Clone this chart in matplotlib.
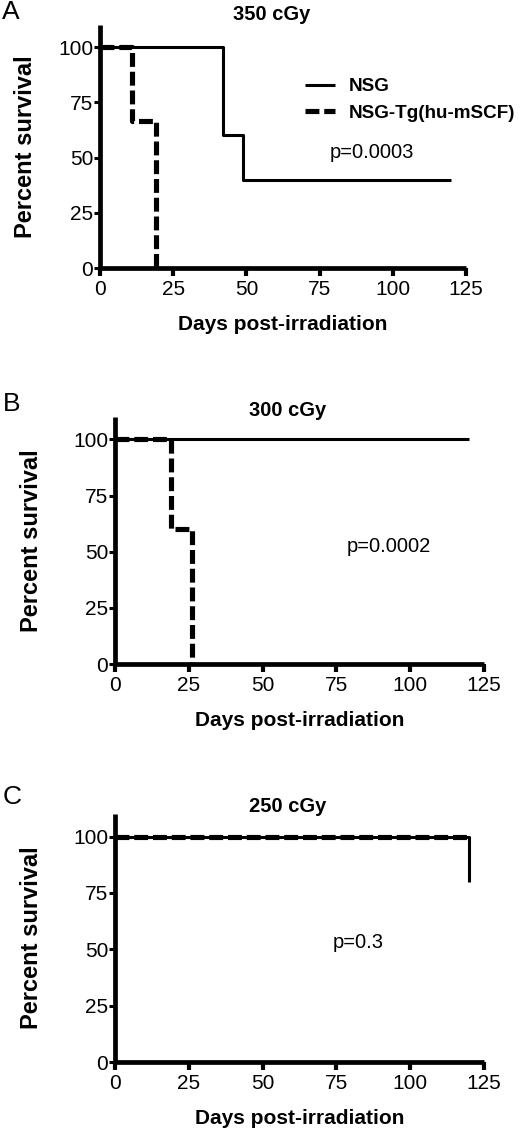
import matplotlib
matplotlib.use("Agg")
import matplotlib.pyplot as plt

plt.rcParams['font.family'] = ['Liberation Sans', 'DejaVu Sans']
plt.rcParams['lines.scale_dashes'] = False

# survival curves (days, percent survival), step-post
doses = ["350 cGy", "300 cGy", "250 cGy"]
panel_letters = ["A", "B", "C"]
p_values = ["p=0.0003", "p=0.0002", "p=0.3"]
series_names = ["NSG", "NSG-Tg(hu-mSCF)"]

nsg_days = [[0, 42, 49, 120], [0, 120], [0, 120]]
nsg_surv = [[100, 60, 40, 40], [100, 100], [100, 80]]
tg_days = [[0, 11, 19], [0, 19, 26], [0, 120]]
tg_surv = [[100, 66.7, 0], [100, 60, 0], [100, 100]]

x_ticks = [0, 25, 50, 75, 100, 125]
y_ticks = [0, 25, 50, 75, 100]

W, H = 520, 1130
fig = plt.figure(figsize=(W / 100, H / 100), dpi=100)

# axes boxes in pixels: left, right, top, bottom
boxes = [(100, 466, 25, 268), (115, 484, 417, 664), (115, 484, 814, 1062)]
title_xy = [(272, 15), (288, 410), (288, 807)]
letter_xy = [(2, 12), (3, 404), (3, 797)]
pval_xy = [(330, 153), (347, 547), (333, 943)]
xlab_y = [325, 720, 1118]
ylab_x = [26, 32, 32]


def fx(px):
    return px / W


def fy(py):
    return 1 - py / H


for i in range(3):
    l, r, t, b = boxes[i]
    ax = fig.add_axes([fx(l), fy(b), (r - l) / W, (b - t) / H])

    ax.plot(nsg_days[i], nsg_surv[i], drawstyle='steps-post', color='black',
            lw=2.2, solid_capstyle='butt', label=series_names[0], zorder=3)
    ax.plot(tg_days[i], tg_surv[i], drawstyle='steps-post', color='black',
            lw=3.7, dashes=(10, 3.5), label=series_names[1], zorder=4)

    ax.set_xlim(0, 125)
    ax.set_ylim(0, 110)
    ax.set_xticks(x_ticks)
    ax.set_yticks(y_ticks)
    for side in ['top', 'right']:
        ax.spines[side].set_visible(False)
    for side in ['left', 'bottom']:
        ax.spines[side].set_linewidth(3.4)
        ax.spines[side].set_capstyle('butt')
    ax.tick_params(axis='y', direction='out', length=4, width=2.2, pad=1,
                   labelsize=15)
    ax.tick_params(axis='x', direction='out', length=5.5, width=3, pad=3,
                   labelsize=15)

    ax.set_xlabel("Days post-irradiation", fontsize=15, fontweight='bold')
    ax.xaxis.label.set_verticalalignment('center')
    ax.xaxis.set_label_coords(0.5, (b - xlab_y[i]) / (b - t))
    ax.set_ylabel("Percent survival", fontsize=17, fontweight='bold')
    ax.yaxis.label.set_verticalalignment('center')
    ax.yaxis.set_label_coords((ylab_x[i] - l) / (r - l), 0.5)

    fig.text(fx(title_xy[i][0]), fy(title_xy[i][1]), doses[i], fontsize=14.5,
             fontweight='bold', ha='center', va='center')
    fig.text(fx(letter_xy[i][0]), fy(letter_xy[i][1]), panel_letters[i],
             fontsize=19, ha='left', va='center')
    fig.text(fx(pval_xy[i][0]), fy(pval_xy[i][1]), p_values[i], fontsize=14.5,
             ha='left', va='center')

    if i == 0:
        ax.legend(loc='upper left', bbox_to_anchor=((305 - l) / (r - l), (b - 78) / (b - t)),
                  frameon=False, borderpad=0, borderaxespad=0, handlelength=1.6,
                  handletextpad=0.7, labelspacing=0.5,
                  prop={'size': 13.6, 'weight': 'bold'})

fig.savefig("out.png", dpi=100)
